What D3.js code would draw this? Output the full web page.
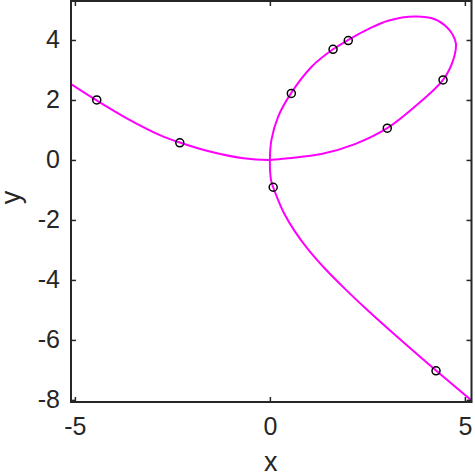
<!DOCTYPE html>
<html>
<head>
<meta charset="utf-8">
<script src="https://cdn.jsdelivr.net/npm/d3@7"></script>
<style>
  body { margin: 0; background: #fff; }
  svg text { font-family: "Liberation Sans", Arial, Helvetica, sans-serif; fill: #262626; }
</style>
</head>
<body>
<svg id="chart" width="475" height="473"></svg>
<script>
// curve, in drawing order
var curveX = [-5.10, -4.46, -3.67, -2.82, -2.31, -1.54, -0.68, 0.00, 0.47, 1.32, 2.18, 3.01, 3.72, 4.44, 4.70, 4.77, 4.69, 4.55, 4.23, 3.72, 3.03, 2.52, 2.01, 1.62, 1.07, 0.54, 0.21, 0.04, 0.00, 0.03, 0.085, 0.21, 0.38, 0.64, 0.98, 1.41, 1.92, 2.52, 3.38, 4.26, 5.17];
var curveY = [2.53, 2.00, 1.39, 0.83, 0.58, 0.28, 0.056, 0.00, 0.06, 0.20, 0.53, 1.06, 1.78, 2.67, 3.33, 3.89, 4.17, 4.41, 4.69, 4.78, 4.64, 4.36, 4.00, 3.69, 3.11, 2.22, 1.44, 0.67, 0.00, -0.67, -0.91, -1.33, -1.82, -2.38, -2.98, -3.62, -4.29, -5.03, -6.03, -7.02, -8.02];

// circle markers
var markX = [-4.44, -2.31, 0.085, 0.55, 1.62, 2.01, 3.01, 4.44, 4.26];
var markY = [2.00, 0.57, -0.91, 2.22, 3.69, 3.98, 1.06, 2.67, -7.03];

var xTicks = [-5, 0, 5];
var yTicks = [-8, -6, -4, -2, 0, 2, 4];

var plotLeft = 71, plotRight = 471.5, plotTop = 1, plotBottom = 402;
var svg = d3.select("#chart");

var x = d3.scaleLinear().domain([-5.10, 5.17]).range([plotLeft, plotRight]);
var y = d3.scaleLinear().domain([-8.07, 5.30]).range([plotBottom, plotTop]);

var pts = curveX.map(function (d, i) { return {x: d, y: curveY[i]}; });
var marks = markX.map(function (d, i) { return {x: d, y: markY[i]}; });

var lineFunction = d3.line()
    .x(function (d) { return x(d.x); })
    .y(function (d) { return y(d.y); })
    .curve(d3.curveCatmullRom.alpha(0.5));

var fmt = function (d) { return String(d); };

svg.append("defs").append("clipPath").attr("id", "clip")
    .append("rect").attr("x", plotLeft).attr("y", plotTop)
    .attr("width", plotRight - plotLeft).attr("height", plotBottom - plotTop);

svg.append("path")
    .datum(pts)
    .attr("d", lineFunction)
    .attr("clip-path", "url(#clip)")
    .attr("fill", "none")
    .style("stroke", "#ff00ff")
    .style("stroke-width", 2);

svg.selectAll(".mark")
    .data(marks)
    .enter().append("circle")
    .classed("mark", true)
    .attr("cx", function (d) { return x(d.x); })
    .attr("cy", function (d) { return y(d.y); })
    .attr("r", 4)
    .attr("fill", "none")
    .style("stroke", "#000")
    .style("stroke-width", 1.5);

// axes with inward ticks, box on
var axisColor = "#262626";
function styleAxis(g) {
    g.select(".domain").remove();
    g.selectAll(".tick line").attr("stroke", axisColor).attr("stroke-width", 1.5);
    g.selectAll(".tick text").style("font-size", "25px").attr("fill", axisColor);
}

svg.append("g").attr("transform", "translate(0," + plotBottom + ")")
    .call(d3.axisBottom(x).tickValues(xTicks).tickSize(-5).tickPadding(15).tickFormat(fmt))
    .call(styleAxis);
svg.append("g").attr("transform", "translate(0," + plotTop + ")")
    .call(d3.axisTop(x).tickValues(xTicks).tickSize(-5).tickFormat(""))
    .call(styleAxis);
svg.append("g").attr("transform", "translate(" + plotLeft + ",0)")
    .call(d3.axisLeft(y).tickValues(yTicks).tickSize(-5).tickPadding(11).tickFormat(fmt))
    .call(styleAxis);
svg.append("g").attr("transform", "translate(" + plotRight + ",0)")
    .call(d3.axisRight(y).tickValues(yTicks).tickSize(-5).tickFormat(""))
    .call(styleAxis);

svg.append("rect")
    .attr("x", plotLeft).attr("y", plotTop)
    .attr("width", plotRight - plotLeft).attr("height", plotBottom - plotTop)
    .attr("fill", "none")
    .style("stroke", axisColor)
    .style("stroke-width", 2);

svg.append("text")
    .attr("x", (plotLeft + plotRight) / 2 - 0.5)
    .attr("y", 471)
    .attr("text-anchor", "middle")
    .style("font-size", "27px")
    .text("x");

svg.append("text")
    .attr("transform", "translate(20," + ((plotTop + plotBottom) / 2 - 4) + ") rotate(-90)")
    .attr("text-anchor", "middle")
    .style("font-size", "27px")
    .text("y");
</script>
</body>
</html>
